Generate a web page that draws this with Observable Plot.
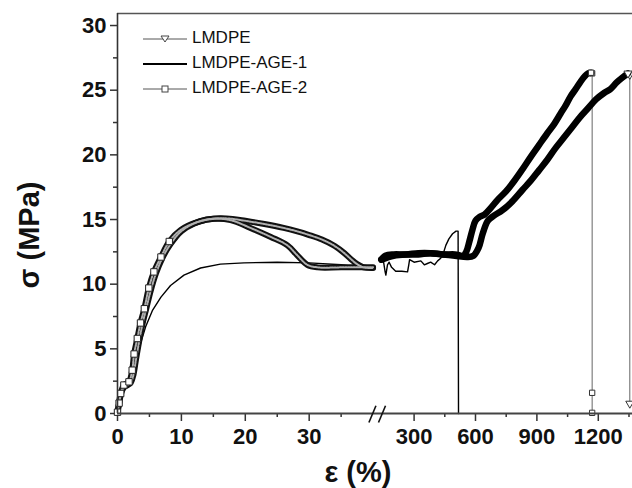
<!DOCTYPE html>
<html><head><meta charset="utf-8">
<script src="https://cdn.jsdelivr.net/npm/d3@7"></script>
<script src="https://cdn.jsdelivr.net/npm/@observablehq/plot@0.6"></script>
<style>
html,body{margin:0;padding:0;background:#fff;overflow:hidden;}
#chart{position:relative;width:632px;height:488px;}
</style></head><body><div id="chart"></div>
<script>
// ---- series names ----
const seriesNames = ["LMDPE", "LMDPE-AGE-1", "LMDPE-AGE-2"];

// ---- strain (%) , stress (MPa) ----
const lmdpeLeft = [[0,0.1],[0.3,0.9],[0.6,1.6],[1.0,2.0],[1.6,2.2],[2.1,2.4],[2.5,3.0],[2.9,4.2],[3.4,5.6],[3.9,6.9],[4.5,8.1],[5.2,9.5],[6.0,10.8],[7.0,12.0],[8.3,13.1],[10.0,14.1],[12.0,14.7],[14.0,15.0],[16.0,15.1],[18.0,15.05],[20.0,14.9],[23,14.65],[26,14.35],[28,14.1],[30,13.8],[32,13.45],[34,12.95],[35.5,12.4],[36.5,11.95],[37.5,11.55],[38.5,11.3],[40,11.25]];
const lmdpeRight = [[140,11.9],[200,12.2],[260,12.3],[320,12.3],[380,12.4],[440,12.3],[500,12.2],[560,12.1],[590,12.2],[615,12.8],[635,13.9],[660,14.9],[690,15.3],[730,15.7],[780,16.4],[830,17.3],[870,18.0],[910,18.8],[950,19.6],[990,20.5],[1030,21.3],[1070,22.1],[1110,22.9],[1150,23.6],[1190,24.3],[1230,24.8],[1260,25.1],[1290,25.6],[1320,26.0],[1345,26.3]];
const lmdpeDrop = [[1354,26.2],[1354,0.77]];

const age1Left = [[0,0.1],[0.5,1.3],[1.0,2.05],[1.8,2.3],[2.6,3.1],[3.1,4.1],[3.6,5.4],[4.4,6.7],[5.5,8.0],[6.8,9.0],[8.3,9.9],[10.4,10.7],[13.0,11.25],[16.1,11.55],[19.8,11.65],[25,11.7],[30,11.65],[35,11.5],[38,11.3],[40,11.2]];
const age1Right = [[140,12.0],[150,11.8],[158,11.0],[162,10.7],[170,11.5],[178,11.7],[190,11.3],[210,11.0],[240,11.0],[268,10.95],[274,11.5],[278,11.9],[300,11.7],[333,11.8],[350,11.5],[365,11.6],[381,11.7],[400,11.5],[415,11.8],[430,12.0],[445,12.5],[455,13.0],[470,13.5],[488,13.9],[505,14.1],[515,14.1],[517,0]];

const age2Left = [[0,0.1],[0.25,0.8],[0.5,1.55],[1.0,2.2],[1.8,2.45],[2.3,3.35],[2.6,4.6],[3.1,5.8],[3.6,7.0],[4.2,8.1],[4.9,9.7],[5.7,10.95],[6.8,12.1],[8.1,13.3],[9.9,14.2],[12.5,14.8],[15.1,15.05],[17.7,14.95],[20.8,14.35],[24,13.65],[26.6,13.0],[28.1,12.25],[29.7,11.5],[31.3,11.3],[35,11.3],[40,11.3]];
const age2Right = [[140,11.9],[160,12.2],[200,12.3],[260,12.3],[320,12.4],[380,12.4],[440,12.3],[500,12.3],[540,12.2],[555,12.5],[570,13.3],[585,14.2],[600,14.9],[620,15.2],[645,15.4],[675,15.9],[707,16.5],[750,17.2],[790,18.0],[830,18.9],[870,19.85],[910,20.75],[950,21.65],[985,22.4],[1016,23.2],[1040,23.8],[1064,24.5],[1090,25.1],[1113,25.65],[1135,26.1],[1150,26.3],[1165,26.35]];
const age2Drop = [[1170,26.3],[1170,1.6],[1170,0.05]];

// ---- tick values ----
const yTicks = [0,5,10,15,20,25,30];
const yMinor = [2.5,7.5,12.5,17.5,22.5,27.5];
const xTicksLeft = [0,10,20,30];
const xMinorLeft = [5,15,25,35];
const xTicksRight = [300,600,900,1200];
const xMinorRight = [450,750,1050,1350];

// ---- broken axis: left 0–40 %, right 140–1400 % compressed ----
const LEFT_MAX = 45, K = 0.03203, OFF = 36.81;
const ax = e => e <= LEFT_MAX ? e : OFF + K * e;
const unax = a => String(a <= LEFT_MAX ? Math.round(a) : Math.round((a - OFF) / K));
const BREAK_AT = (40 + ax(140)) / 2;

function rows(arr, name, seg) { return arr.map(([e, s]) => ({e, s, x: ax(e), name, key: name + seg})); }
const leftBands = [...rows(lmdpeLeft, seriesNames[0], "L"), ...rows(age2Left, seriesNames[2], "L")];
const rightBands = [...rows(lmdpeRight, seriesNames[0], "R"), ...rows(age2Right, seriesNames[2], "R")];
const age1 = [...rows(age1Left, seriesNames[1], "L"), ...rows(age1Right, seriesNames[1], "R")];
const drops = [...rows(lmdpeDrop, seriesNames[0], "D"), ...rows(age2Drop, seriesNames[2], "D")];
const lmdpeTop = rows(lmdpeRight.slice(-1), seriesNames[0], "T");
const age2Top = rows(age2Right.slice(-1), seriesNames[2], "T");
const risingSquares = rows(age2Left.filter(d => d[0] < 9), seriesNames[2], "S");
const symbolOf = {"LMDPE": "triangle", "LMDPE-AGE-2": "square"};

const W = 632, H = 488;
const yMax = 30.93;
const font = "'Liberation Sans', Arial, Helvetica, sans-serif";

const chart = Plot.plot({
  width: W, height: H,
  marginLeft: 117, marginRight: 0, marginTop: 13, marginBottom: 75,
  x: {domain: [0, 80.6], label: null},
  y: {domain: [0, yMax], label: null},
  style: {fontFamily: font, background: "#fff", color: "#111", overflow: "visible"},
  marks: [
    Plot.ruleY([yMax], {stroke: "#555", strokeWidth: 1.5}),
    Plot.axisY(yTicks, {tickSize: 7, tickPadding: 4, fontSize: 22, fontWeight: "bold", stroke: "#333", strokeWidth: 1.5, label: null}),
    Plot.axisY(yMinor, {tickSize: 4, tickFormat: () => "", stroke: "#333", strokeWidth: 1.5, label: null}),
    Plot.axisX([...xTicksLeft, ...xTicksRight].map(ax), {tickSize: 8, tickPadding: 7, fontSize: 22, fontWeight: "bold", stroke: "#333", strokeWidth: 1.5, tickFormat: unax, label: null}),
    Plot.axisX([...xMinorLeft, ...xMinorRight].map(ax), {tickSize: 4, tickFormat: () => "", stroke: "#333", strokeWidth: 1.5, label: null}),
    // AGE-1 thin line
    Plot.line(age1, {x: "x", y: "s", z: "key", stroke: "#000", strokeWidth: 1.4, curve: "linear"}),
    // vertical drops
    Plot.line(drops, {x: "x", y: "s", z: "key", stroke: "#666", strokeWidth: 1}),
    Plot.dot(drops, {x: "x", y: "s", symbol: d => symbolOf[d.name], r: 3, fill: "#fff", stroke: "#333", strokeWidth: 1, rotate: d => d.name === "LMDPE" ? 180 : 0}),
    // left hollow bands (dense markers)
    Plot.line(leftBands, {x: "x", y: "s", z: "key", stroke: "#111", strokeWidth: 6, curve: "catmull-rom"}),
    Plot.line(leftBands, {x: "x", y: "s", z: "key", stroke: "#b0b0b0", strokeWidth: 2, strokeDasharray: "1.5,1.2", curve: "catmull-rom"}),
    Plot.dot(risingSquares, {x: "x", y: "s", symbol: "square", r: 3.6, fill: "#fff", stroke: "#222", strokeWidth: 1}),
    // right solid bands
    Plot.line(rightBands, {x: "x", y: "s", z: "key", stroke: "#000", strokeWidth: 6.5, curve: "catmull-rom", strokeLinecap: "round"}),
    Plot.dot([...lmdpeTop, ...age2Top], {x: "x", y: "s", symbol: d => symbolOf[d.name], r: 3, fill: "#fff", stroke: "#333", strokeWidth: 1, rotate: d => d.name === "LMDPE" ? 180 : 0}),
    // axis lines
    Plot.ruleX([0], {stroke: "#333", strokeWidth: 1.6}),
    Plot.ruleY([0], {stroke: "#444", strokeWidth: 2}),
    // axis break marks
    Plot.link([BREAK_AT - 0.75, BREAK_AT + 0.75], {x1: d => d - 0.55, x2: d => d + 0.55, y1: -0.7, y2: 0.6, stroke: "#111", strokeWidth: 1.6})
  ]
});
const root = document.getElementById("chart");
root.appendChild(chart);

// axis titles and legend
const svg = d3.select(chart);
svg.append("text").attr("transform", "translate(31,235) rotate(-90)")
  .attr("text-anchor", "middle").attr("dominant-baseline", "middle")
  .attr("font-family", font).attr("font-weight", "bold").attr("font-size", 29).attr("fill", "#111")
  .text("σ (MPa)");
svg.append("text").attr("x", 358).attr("y", 474)
  .attr("text-anchor", "middle").attr("dominant-baseline", "middle")
  .attr("font-family", font).attr("font-weight", "bold").attr("font-size", 29).attr("fill", "#111")
  .text("ε (%)");

const legend = svg.append("g");
const legendStyles = [
  {stroke: "#555", width: 1, sym: "tri"},
  {stroke: "#000", width: 2, sym: null},
  {stroke: "#555", width: 1, sym: "sq"}
];
seriesNames.forEach((name, i) => {
  const y = 39 + i * 25, st = legendStyles[i];
  const g = legend.append("g");
  g.append("line").attr("x1", 143).attr("x2", 187).attr("y1", y).attr("y2", y)
    .attr("stroke", st.stroke).attr("stroke-width", st.width);
  if (st.sym === "tri") g.append("path").attr("d", `M161,${y-3}L169,${y-3}L165,${y+3}Z`).attr("fill", "#fff").attr("stroke", "#444");
  if (st.sym === "sq") g.append("rect").attr("x", 162).attr("y", y - 3).attr("width", 6).attr("height", 6).attr("fill", "#fff").attr("stroke", "#444");
  g.append("text").attr("x", 192).attr("y", y).attr("dominant-baseline", "middle").attr("text-anchor", "start")
    .attr("font-family", font).attr("font-size", 17).attr("fill", "#111").text(name);
});
</script></body></html>
